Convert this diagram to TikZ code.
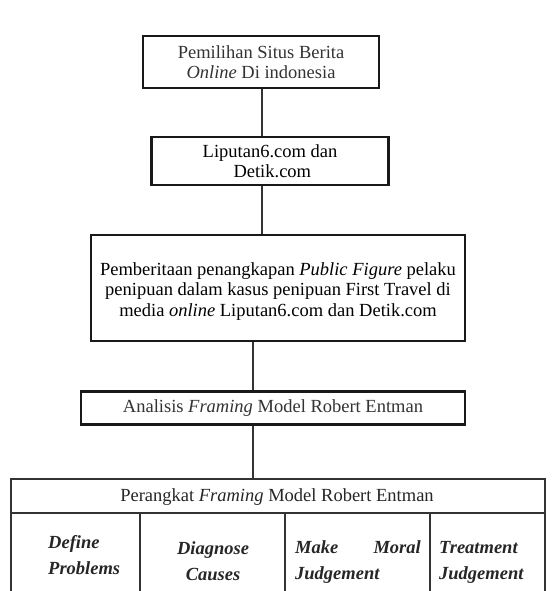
\documentclass[tikz,border=0pt]{standalone}
\usepackage{fontspec}
\setmainfont{Liberation Serif}
\begin{document}
\begin{tikzpicture}[x=1pt,y=-1pt,
  box/.style={draw=black!90, line width=2.2pt, align=center, inner sep=0pt,
    font=\fontsize{18.5}{20.5}\selectfont, text=black},
  conn/.style={draw=black!80, line width=1.6pt},
  cell/.style={font=\fontsize{18.5}{20.5}\selectfont\bfseries\itshape, inner sep=0pt, text=black!85},
  hdr/.style={font=\fontsize{18.5}{20.5}\selectfont, inner sep=0pt, text=black!85},
  tline/.style={draw=black!80, line width=1.5pt}]
\useasboundingbox (0,0) rectangle (557,591);
\fill[white] (0,0) rectangle (557,591);

\node[box, text=black!80, minimum width=236, minimum height=52] (b1) at (261,62)
  {Pemilihan Situs Berita\\\textit{Online} Di indonesia};
\node[box, minimum width=237, minimum height=48] (b2) at (270,161)
  {Liputan6.com dan\\\ Detik.com};
\node[box, minimum width=374, minimum height=106] (b3) at (278,288)
  {\\[-1pt]Pemberitaan penangkapan \textit{Public Figure} pelaku\\
   penipuan dalam kasus penipuan First Travel di\\
   media \textit{online} Liputan6.com dan Detik.com};
\node[box, text=black!80, minimum width=384, minimum height=33] (b4) at (273,408)
  {Analisis \textit{Framing} Model Robert Entman};

% table
\node[draw=black!80, line width=1.5pt, minimum width=534, minimum height=140,
  anchor=north west, inner sep=0pt] (tbl) at (10,478) {};
\coordinate (hl) at (10,513);
\coordinate (hr) at (544,513);
\draw[tline] (hl) -- (hr);
\coordinate (d1) at (140,513);
\coordinate (d2) at (285,513);
\coordinate (d3) at (430,513);
\draw[tline] (d1) -- (d1 |- tbl.south);
\draw[tline] (d2) -- (d2 |- tbl.south);
\draw[tline] (d3) -- (d3 |- tbl.south);

\node[hdr] (h) at (277,497) {Perangkat \textit{Framing} Model Robert Entman};

\node[cell, anchor=mid west] (c1a) at (48,546) {Define};
\node[cell, anchor=mid west] (c1b) at (48,572) {Problems};
\node[cell, anchor=mid] (c2a) at (213,552) {Diagnose};
\node[cell, anchor=mid] (c2b) at (213,578) {Causes};
\node[cell, anchor=mid west] (c3a) at (295,551) {Make};
\node[cell, anchor=mid east] (c3b) at (421,551) {Moral};
\node[cell, anchor=mid west] (c3c) at (295,577) {Judgement};
\node[cell, anchor=mid west] (c4a) at (439,551) {Treatment};
\node[cell, anchor=mid west] (c4b) at (439,577) {Judgement};

% connectors
\draw[conn] (262,0 |- b1.south) -- (262,0 |- b2.north);
\draw[conn] (262,0 |- b2.south) -- (262,0 |- b3.north);
\draw[conn] (253,0 |- b3.south) -- (253,0 |- b4.north);
\draw[conn] (253,0 |- b4.south) -- (253,0 |- tbl.north);
\end{tikzpicture}
\end{document}
